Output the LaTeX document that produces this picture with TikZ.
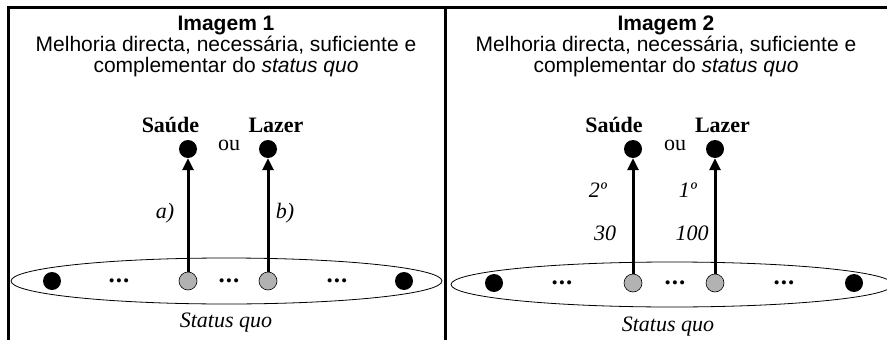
\documentclass[tikz,border=0pt]{standalone}
\usepackage{fontspec}
\setmainfont{Liberation Serif}
\newfontfamily\arialfont{Liberation Sans}
\usetikzlibrary{arrows.meta}
\begin{document}
\begin{tikzpicture}[x=1pt,y=-1pt,
  frame/.style={line width=2.4pt},
  dotblack/.style={circle,fill=black,minimum size=18pt,inner sep=0pt},
  dotgray/.style={circle,draw=black,line width=0.6pt,fill=black!30,minimum size=18pt,inner sep=0pt},
  jump/.style={line width=3pt,-{Triangle[length=12pt,width=11pt]}},
  txt/.style={inner sep=0pt,font=\fontsize{22}{24}\selectfont},
  more/.style={inner sep=0pt,font=\bfseries\fontsize{25}{25}\selectfont},
  title/.style={align=center,inner sep=0pt,font=\arialfont\fontsize{21}{21}\selectfont}]
\useasboundingbox (0,0) rectangle (887,340);
\clip (0,0) rectangle (887,340);
\draw[frame] (8.5,340) -- (8.5,7.5) -- (890,7.5);
\draw[frame] (445.5,7.5) -- (445.5,340);
% Imagem 1
\node[title] (tit1) at (226,46) {\textbf{Imagem 1}\\Melhoria directa, necessária, suficiente e\\complementar do \textit{status quo}};
\draw[line width=0.8pt] (226.5,281) ellipse [x radius=215.5, y radius=23];
\node[dotblack] (e1a) at (52,281) {};
\node[more] (p1a) at (119,281) {.\kern1pt.\kern1pt.};
\node[dotgray] (g1a) at (188,281) {};
\node[more] (p1b) at (229,281) {.\kern1pt.\kern1pt.};
\node[dotgray] (g1b) at (268,281) {};
\node[more] (p1c) at (337,281) {.\kern1pt.\kern1pt.};
\node[dotblack] (e1b) at (404,281) {};
\node[dotblack] (s1a) at (188,149) {};
\node[dotblack] (s1b) at (268,149) {};
\node[txt] (saude1) at (170.5,125) {\textbf{Saúde}};
\node[txt] (lazer1) at (276,125) {\textbf{Lazer}};
\node[txt] (ou1) at (229,145) {ou};
\draw[jump] (g1a) -- (s1a);
\draw[jump] (g1b) -- (s1b);
\node[txt] (la) at (165,213) {\textit{a)}};
\node[txt] (lb) at (285,213) {\textit{b)}};
\node[txt] (sq1) at (226,323) {\textit{Status quo}};
% Imagem 2
\node[title] (tit2) at (666,46) {\textbf{Imagem 2}\\Melhoria directa, necessária, suficiente e\\complementar do \textit{status quo}};
\draw[line width=0.8pt] (672,284.5) ellipse [x radius=221, y radius=22.5];
\node[dotblack] (e2a) at (494,283) {};
\node[more] (p2a) at (562,283) {.\kern1pt.\kern1pt.};
\node[dotgray] (g2a) at (633,283) {};
\node[more] (p2b) at (675,283) {.\kern1pt.\kern1pt.};
\node[dotgray] (g2b) at (715,283) {};
\node[more] (p2c) at (784,283) {.\kern1pt.\kern1pt.};
\node[dotblack] (e2b) at (854,283) {};
\node[dotblack] (s2a) at (633,149) {};
\node[dotblack] (s2b) at (715,149) {};
\node[txt] (saude2) at (614,125) {\textbf{Saúde}};
\node[txt] (lazer2) at (722.5,125) {\textbf{Lazer}};
\node[txt] (ou2) at (675,145) {ou};
\draw[jump] (g2a) -- (s2a);
\draw[jump] (g2b) -- (s2b);
\node[txt] (ord2) at (598,190) {\textit{2º}};
\node[txt] (ord1) at (688,190) {\textit{1º}};
\node[txt] (v30) at (605,233) {\textit{30}};
\node[txt] (v100) at (692,233) {\textit{100}};
\node[txt] (sq2) at (668,327) {\textit{Status quo}};
\end{tikzpicture}
\end{document}
